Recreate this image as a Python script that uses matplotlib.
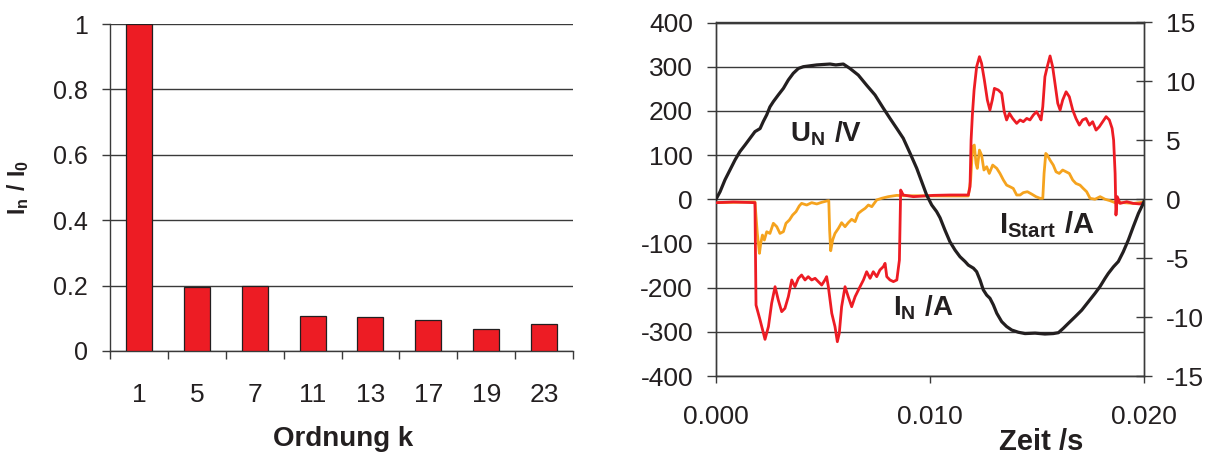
import matplotlib
matplotlib.use("Agg")
import matplotlib.pyplot as plt
from matplotlib.ticker import FixedLocator, NullFormatter

plt.rcParams['font.family'] = ['Liberation Sans', 'DejaVu Sans']
plt.rcParams['mathtext.fontset'] = 'custom'
plt.rcParams['mathtext.rm'] = 'Liberation Sans'
plt.rcParams['mathtext.bf'] = 'Liberation Sans:bold'
plt.rcParams['axes.unicode_minus'] = False

# ---------------- data ----------------
orders = ['1', '5', '7', '11', '13', '17', '19', '23']
ratio = [1.0, 0.197, 0.200, 0.108, 0.103, 0.095, 0.067, 0.082]

u_points = [
    (0.0, 0), (0.00019, 17), (0.00042, 44), (0.00065, 66), (0.00089, 89), (0.00112, 108),
    (0.00136, 123), (0.00159, 138), (0.00182, 153), (0.00206, 160), (0.00221, 176),
    (0.00237, 191), (0.00252, 209), (0.00268, 221), (0.00291, 236), (0.00315, 251),
    (0.00338, 270), (0.00361, 285), (0.00385, 296), (0.00408, 300), (0.00439, 302),
    (0.00471, 304), (0.00501, 305), (0.00533, 306), (0.00560, 304), (0.00595, 306),
    (0.00626, 296), (0.00665, 281), (0.00704, 258), (0.00743, 236), (0.00782, 206),
    (0.00813, 183), (0.00845, 160), (0.00875, 138), (0.00907, 104), (0.00938, 70),
    (0.00961, 40), (0.00984, 10), (0.01008, -13), (0.01031, -28), (0.01047, -42),
    (0.01070, -70), (0.01093, -96), (0.01117, -115), (0.01140, -130), (0.01164, -141),
    (0.01179, -149), (0.01203, -156), (0.01218, -164), (0.01234, -183), (0.01249, -205),
    (0.01265, -217), (0.01280, -224), (0.01296, -239), (0.01312, -258), (0.01335, -277),
    (0.01358, -288), (0.01382, -296), (0.01413, -301), (0.01444, -304), (0.01491, -303),
    (0.01537, -305), (0.01576, -304), (0.01600, -302), (0.01623, -292), (0.01646, -281),
    (0.01678, -266), (0.01709, -251), (0.01740, -232), (0.01771, -213), (0.01794, -198),
    (0.01818, -179), (0.01833, -168), (0.01857, -153), (0.01880, -141), (0.01903, -119),
    (0.01927, -92), (0.01950, -62), (0.01974, -32), (0.01997, -9), (0.02, -5),
]

i_n_points = [
    (0.0, -0.29), (0.00081, -0.23), (0.00182, -0.29), (0.00187, -8.98), (0.00206, -10.25),
    (0.00229, -11.89), (0.00245, -10.81), (0.00260, -8.83), (0.00276, -7.42), (0.00291, -8.55),
    (0.00307, -9.54), (0.00322, -9.26), (0.00338, -8.27), (0.00354, -6.85), (0.00369, -7.42),
    (0.00385, -6.71), (0.00400, -6.43), (0.00416, -6.85), (0.00431, -6.57), (0.00447, -6.85),
    (0.00463, -6.71), (0.00478, -6.99), (0.00494, -7.28), (0.00509, -6.85), (0.00517, -6.57),
    (0.00525, -7.42), (0.00533, -8.55), (0.00541, -9.68), (0.00556, -10.81), (0.00567, -12.09),
    (0.00576, -11.38), (0.00587, -9.12), (0.00603, -7.42), (0.00618, -8.27), (0.00634, -9.12),
    (0.00650, -8.27), (0.00673, -7.42), (0.00689, -6.85), (0.00704, -6.15), (0.00720, -6.71),
    (0.00735, -6.15), (0.00751, -6.57), (0.00766, -6.00), (0.00782, -5.72), (0.00790, -5.44),
    (0.00798, -6.57), (0.00813, -6.85), (0.00829, -6.99), (0.00845, -6.85), (0.00857, -5.16),
    (0.00863, 0.78), (0.00875, 0.36), (0.00922, 0.22), (0.01016, 0.33), (0.01093, 0.36),
    (0.01179, 0.36), (0.01187, 1.06), (0.01192, 5.02), (0.01198, 7.15), (0.01206, 9.27),
    (0.01218, 11.25), (0.01231, 12.10), (0.01241, 11.53), (0.01254, 10.12), (0.01268, 8.42),
    (0.01280, 7.57), (0.01291, 8.42), (0.01301, 9.41), (0.01319, 9.27), (0.01335, 8.99),
    (0.01347, 7.43), (0.01358, 6.73), (0.01371, 7.29), (0.01386, 6.86), (0.01405, 6.44),
    (0.01421, 6.73), (0.01436, 6.58), (0.01452, 6.86), (0.01467, 6.73), (0.01483, 7.15),
    (0.01498, 7.43), (0.01511, 7.01), (0.01519, 6.73), (0.01527, 7.85), (0.01537, 10.40),
    (0.01548, 11.25), (0.01561, 12.16), (0.01573, 11.25), (0.01584, 9.84), (0.01597, 8.14),
    (0.01608, 7.57), (0.01620, 8.42), (0.01636, 9.12), (0.01651, 8.70), (0.01667, 7.57),
    (0.01682, 6.86), (0.01698, 6.29), (0.01713, 6.73), (0.01729, 6.86), (0.01745, 6.29),
    (0.01760, 6.58), (0.01776, 5.87), (0.01791, 6.15), (0.01807, 6.58), (0.01823, 7.01),
    (0.01838, 6.73), (0.01851, 6.01), (0.01858, 5.02), (0.01865, 2.19), (0.01869, -1.34),
    (0.01875, 0.22), (0.01888, -0.35), (0.01919, -0.21), (0.01950, -0.35), (0.01981, -0.40),
    (0.02, -0.29),
]

i_start_points = [
    (0.0, -0.29), (0.00182, -0.23), (0.00193, -2.89), (0.00203, -4.59), (0.00209, -3.75),
    (0.00217, -3.04), (0.00226, -3.46), (0.00237, -2.76), (0.00252, -2.90), (0.00268, -2.04),
    (0.00284, -2.33), (0.00299, -2.90), (0.00315, -2.75), (0.00327, -2.04), (0.00343, -1.76),
    (0.00358, -1.34), (0.00374, -1.05), (0.00389, -0.57), (0.00400, -0.35), (0.00424, -0.49),
    (0.00447, -0.29), (0.00471, -0.40), (0.00494, -0.26), (0.00517, -0.15), (0.00527, -0.12),
    (0.00531, -2.61), (0.00536, -4.37), (0.00545, -3.46), (0.00556, -2.90), (0.00572, -2.47),
    (0.00587, -1.99), (0.00603, -2.33), (0.00618, -1.99), (0.00634, -1.70), (0.00650, -1.90),
    (0.00665, -1.20), (0.00681, -0.97), (0.00697, -0.77), (0.00712, -0.49), (0.00728, -0.63),
    (0.00751, -0.06), (0.00774, 0.08), (0.00805, 0.22), (0.00845, 0.33), (0.00875, 0.30),
    (0.01093, 0.28), (0.01179, 0.28), (0.01190, 1.63), (0.01199, 4.46), (0.01207, 4.60),
    (0.01215, 3.04), (0.01221, 2.62), (0.01231, 4.17), (0.01241, 3.75), (0.01252, 2.48),
    (0.01265, 2.76), (0.01277, 2.19), (0.01293, 2.90), (0.01312, 2.62), (0.01327, 2.19),
    (0.01343, 1.63), (0.01358, 1.20), (0.01374, 1.06), (0.01389, 0.92), (0.01405, 0.36),
    (0.01421, 0.36), (0.01436, 0.56), (0.01455, 0.64), (0.01475, 0.44), (0.01495, 0.22),
    (0.01514, 0.08), (0.01527, 0.08), (0.01533, 2.19), (0.01541, 3.89), (0.01548, 3.75),
    (0.01561, 3.32), (0.01576, 2.90), (0.01589, 2.33), (0.01604, 2.19), (0.01620, 2.48),
    (0.01636, 2.33), (0.01651, 2.19), (0.01667, 1.63), (0.01682, 1.34), (0.01701, 1.20),
    (0.01716, 0.92), (0.01732, 0.64), (0.01748, 0.08), (0.01771, 0.0), (0.01795, 0.22),
    (0.01818, 0.0), (0.01841, -0.12), (0.01865, -0.29), (0.01904, -0.29), (0.01950, -0.35),
    (0.02, -0.24),
]

u_ticks = [-400, -300, -200, -100, 0, 100, 200, 300, 400]
i_ticks = [-15, -10, -5, 0, 5, 10, 15]
t_ticks = [0.0, 0.01, 0.02]
t_labels = ['0.000', '0.010', '0.020']

# ---------------- styling ----------------
RED = '#ED1C24'
ORANGE = '#F5A31E'
BLACK = '#231F20'
GRID = '#3a3a3a'
SPINE = '#3a3a3a'

W, H = 1215, 454
fig = plt.figure(figsize=(W / 100, H / 100), dpi=100)

# ---------------- left panel ----------------
axL = fig.add_axes([110 / W, (H - 351) / H, (573 - 110) / W, (351 - 24) / H])
xpos = list(range(len(orders)))
axL.bar(xpos, ratio, width=0.45, color=RED, edgecolor=BLACK, linewidth=0.9, zorder=3)
axL.set_xlim(-0.5, len(orders) - 0.5)
axL.set_ylim(0, 1)
axL.set_yticks([0, 0.2, 0.4, 0.6, 0.8, 1.0])
axL.set_yticklabels(['0', '0.2', '0.4', '0.6', '0.8', '1'])
axL.yaxis.grid(True, color=GRID, linewidth=1.0)
axL.set_axisbelow(True)
axL.set_xticks(xpos)
axL.set_xticklabels(orders)
axL.xaxis.set_minor_locator(FixedLocator([i - 0.5 for i in range(len(orders) + 1)]))
axL.xaxis.set_minor_formatter(NullFormatter())
axL.tick_params(axis='x', which='major', length=0, pad=23, labelsize=19, colors=BLACK)
axL.tick_params(axis='x', which='minor', length=6, width=1.0, color=SPINE, direction='out')
axL.tick_params(axis='y', length=6, width=1.0, color=SPINE, direction='out', pad=10,
                labelsize=18, labelcolor=BLACK)
for s in ['top', 'right']:
    axL.spines[s].set_visible(False)
for s in ['left', 'bottom']:
    axL.spines[s].set_color(SPINE)
    axL.spines[s].set_linewidth(1.0)
axL.spines['left'].set_bounds(0, 1)

fig.text(343 / W, 1 - 439 / H, 'Ordnung k', fontsize=20, fontweight='bold',
         ha='center', va='center', color=BLACK)
fig.text(18 / W, 1 - 187 / H, r'$\mathbf{I_n\ /\ I_0}$', fontsize=16.5, rotation=90,
         ha='center', va='center', color=BLACK)

# ---------------- right panel ----------------
rect = [716 / W, (H - 376) / H, (1144 - 716) / W, (376 - 22.5) / H]
axU = fig.add_axes(rect)
axU.set_xlim(0, 0.02)
axU.set_ylim(-400, 400)
axU.set_yticks(u_ticks)
axU.set_yticklabels([str(v) for v in u_ticks])
axU.set_xticks(t_ticks)
axU.set_xticklabels(t_labels)
axU.yaxis.grid(True, color=GRID, linewidth=1.0)
axU.tick_params(axis='y', length=6.5, width=1.0, color=SPINE, direction='out', pad=10,
                labelsize=19, labelcolor=BLACK)
axU.tick_params(axis='x', length=5, width=1.0, color=SPINE, direction='out', pad=16,
                labelsize=19, labelcolor=BLACK)
for s in axU.spines.values():
    s.set_color(SPINE)
    s.set_linewidth(1.0)

axI = axU.twinx()
axI.set_ylim(-15, 15)
axI.set_yticks(i_ticks)
axI.set_yticklabels([str(v) for v in i_ticks])
axI.tick_params(axis='y', length=12, width=1.0, color=SPINE, direction='inout', pad=10,
                labelsize=19, labelcolor=BLACK)
for s in axI.spines.values():
    s.set_color(SPINE)
    s.set_linewidth(1.0)

ts_t = [p[0] for p in i_start_points]
ts_v = [p[1] for p in i_start_points]
tn_t = [p[0] for p in i_n_points]
tn_v = [p[1] for p in i_n_points]
axI.plot(ts_t, ts_v, color=ORANGE, linewidth=2.0, zorder=2, solid_joinstyle='round')
axI.plot(tn_t, tn_v, color=RED, linewidth=2.0, zorder=3, solid_joinstyle='round')

axV = axU.twinx()
axV.set_ylim(-400, 400)
axV.set_yticks([])
for s in axV.spines.values():
    s.set_visible(False)
u_t = [p[0] for p in u_points]
u_v = [p[1] for p in u_points]
axV.plot(u_t, u_v, color=BLACK, linewidth=2.3, zorder=4, solid_joinstyle='round')
axV.set_xlim(0, 0.02)

axV.text(0.00346, 130, r'$\mathbf{U_N\ /V}$', fontsize=20, color=BLACK, va='baseline', ha='left')
axV.text(0.00827, -262, r'$\mathbf{I_N\ /A}$', fontsize=20, color=BLACK, va='baseline', ha='left')
axV.text(0.01322, -76, r'$\mathbf{I_{Start}\ /A}$', fontsize=21, color=BLACK, va='baseline', ha='left')

fig.text(1041 / W, 1 - 442 / H, 'Zeit /s', fontsize=21, fontweight='bold',
         ha='center', va='center', color=BLACK)

fig.savefig('out.png', dpi=100)
